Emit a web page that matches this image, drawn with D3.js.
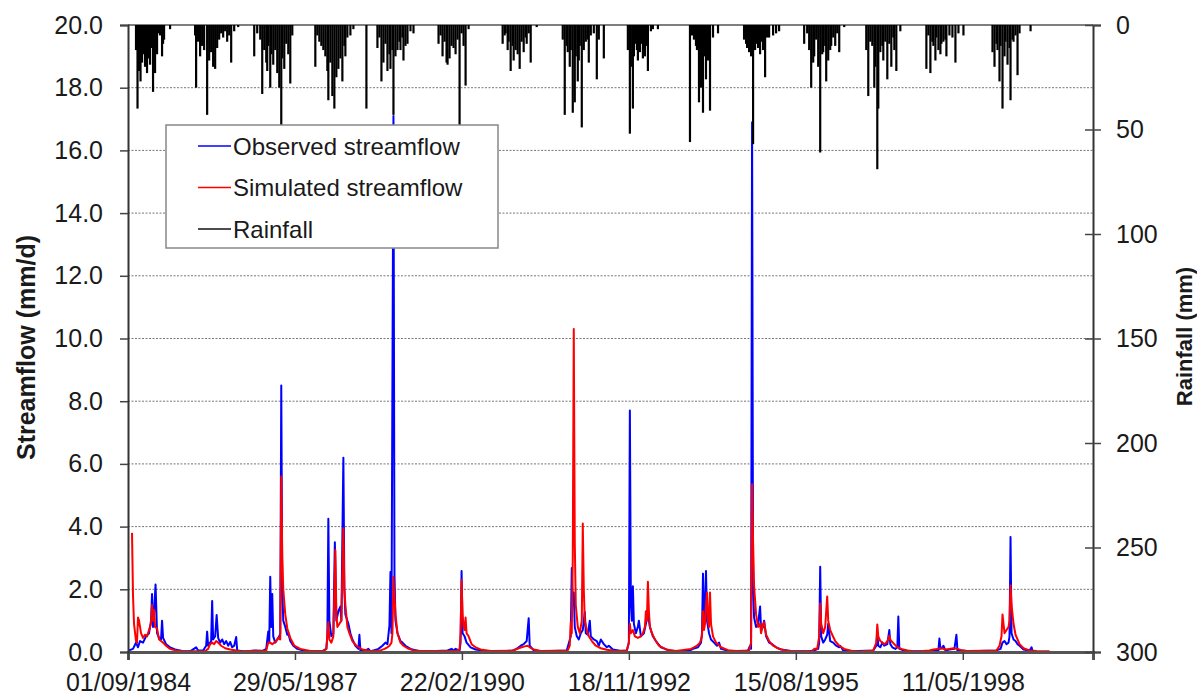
<!DOCTYPE html>
<html>
<head>
<meta charset="utf-8">
<script src="https://cdn.jsdelivr.net/npm/d3@7"></script>
<style>
  body { margin: 0; background: #fff; }
  text { font-family: "Liberation Sans", Arial, sans-serif; fill: #1a1a1a; }
</style>
</head>
<body>
<script>
// day offsets are counted from 01/09/1984
var startDate = new Date(1984, 8, 1);
var lastDay = 5780;
var xTickDays = [0, 1000, 2000, 3000, 4000, 5000];
var flowTicks = [0, 2, 4, 6, 8, 10, 12, 14, 16, 18, 20];
var rainTicks = [0, 50, 100, 150, 200, 250, 300];

// rainfall, [day, mm]
var rainfall = [
  [48,12],[57,40],[66,22],[75,27],[84,18],[90,10],[96,14],[102,20],[108,9],[114,23],[120,12],[126,16],[132,19],[138,8],[144,11],[150,32],[156,13],[162,23],[168,6],[174,14],[180,4],[192,5],[204,15],[210,9],[216,7],[252,2],
  [402,5],[408,30],[420,8],[432,15],[444,10],[456,12],[474,43],[486,17],[498,13],[510,20],[522,21],[534,11],[546,7],[558,4],[570,6],[582,3],[594,8],[606,5],[618,18],[636,3],[660,1],
  [756,15],[774,4],[792,7],[804,33],[816,12],[828,18],[834,22],[840,10],[852,30],[858,14],[870,19],[882,12],[894,23],[906,30],[918,50],[924,16],[936,21],[948,9],[960,14],[972,28],[984,5],
  [1122,20],[1134,5],[1146,8],[1158,10],[1170,12],[1182,15],[1194,22],[1200,36],[1212,18],[1224,34],[1236,40],[1248,25],[1260,21],[1272,16],[1284,27],[1296,10],[1302,15],[1314,6],[1332,5],[1350,2],[1428,40],
  [1494,11],[1506,6],[1518,27],[1530,18],[1542,9],[1554,22],[1566,14],[1572,21],[1584,12],[1590,43],[1602,15],[1614,12],[1626,8],[1632,12],[1644,6],[1650,17],[1662,10],[1674,9],[1692,3],[1710,4],
  [1860,9],[1872,5],[1884,15],[1896,8],[1908,18],[1914,19],[1926,16],[1938,10],[1950,11],[1962,14],[1974,7],[1986,50],[1998,4],[2010,10],[2022,29],[2040,2],
  [2244,9],[2256,5],[2262,4],[2274,12],[2280,8],[2292,22],[2304,10],[2310,17],[2322,12],[2334,14],[2346,21],[2358,8],[2370,13],[2382,6],[2388,9],[2400,4],[2412,18],[2448,1],
  [2604,7],[2616,43],[2628,10],[2634,13],[2646,20],[2652,12],[2664,42],[2676,37],[2682,15],[2694,27],[2700,17],[2706,10],[2718,49],[2730,12],[2742,8],[2754,7],[2760,18],[2772,5],[2790,4],[2808,26],[2820,7],[2850,16],
  [2994,12],[3006,52],[3012,20],[3024,40],[3030,15],[3036,9],[3048,12],[3054,17],[3066,13],[3072,9],[3084,16],[3096,15],[3102,10],[3114,22],[3132,3],[3144,2],[3174,2],
  [3366,56],[3378,5],[3390,7],[3402,10],[3408,12],[3420,37],[3426,18],[3432,30],[3438,14],[3444,42],[3456,15],[3462,26],[3474,17],[3486,41],[3504,6],[3534,4],
  [3690,7],[3702,9],[3708,11],[3720,13],[3732,15],[3738,8],[3744,57],[3756,12],[3762,9],[3774,11],[3786,14],[3792,8],[3804,12],[3816,25],[3828,6],[3840,6],[3864,5],[3882,4],[3900,3],
  [4050,9],[4068,4],[4080,12],[4092,30],[4104,18],[4110,15],[4122,7],[4134,20],[4146,61],[4158,14],[4164,13],[4176,10],[4182,27],[4194,17],[4206,12],[4212,10],[4224,6],[4236,10],[4248,4],[4260,13],[4290,1],
  [4422,12],[4434,34],[4446,8],[4458,10],[4470,30],[4476,20],[4488,69],[4494,40],[4506,13],[4518,10],[4524,17],[4536,8],[4548,26],[4560,9],[4572,20],[4584,6],[4590,12],[4602,22],[4626,3],
  [4782,21],[4794,5],[4806,23],[4818,8],[4824,10],[4836,17],[4842,6],[4854,12],[4866,14],[4872,9],[4884,8],[4896,7],[4902,15],[4920,5],[4938,6],[4956,18],[4974,4],[5004,5],
  [5178,13],[5190,20],[5202,9],[5208,12],[5220,27],[5226,10],[5238,40],[5250,15],[5256,8],[5268,19],[5280,11],[5286,36],[5298,7],[5304,8],[5316,5],[5328,24],[5340,4],[5406,3]
];

// observed streamflow, [day, mm/d]
var observed = [
  [6,0.05],[30,0.1],[48,0.3],[60,0.15],[72,0.35],[90,0.3],[108,0.5],[126,0.6],[138,1.0],[144,1.85],[150,0.8],[156,1.2],[165,2.15],[174,0.6],[186,0.45],[198,0.4],[204,1.0],[210,0.45],[228,0.25],[252,0.15],[282,0.08],[324,0.03],[372,0.02],
  [408,0.15],[420,0.05],[450,0.05],[468,0.2],[474,0.65],[480,0.2],[498,0.35],[504,1.63],[510,0.4],[522,0.5],[531,1.18],[540,0.45],[552,0.3],[564,0.4],[576,0.25],[588,0.35],[600,0.2],[612,0.32],[624,0.15],[636,0.2],[648,0.48],[654,0.05],[702,0.02],
  [762,0.05],[804,0.03],[828,0.1],[840,0.65],[846,0.3],[852,2.4],[858,0.8],[864,1.85],[870,0.5],[882,0.3],[894,0.4],[906,0.5],[912,0.6],[918,8.5],[924,2.0],[930,1.0],[942,0.8],[954,0.55],[960,0.6],[972,0.35],[990,0.2],[1014,0.1],[1062,0.03],[1122,0.02],
  [1164,0.03],[1188,0.1],[1194,0.5],[1200,4.25],[1206,1.0],[1218,0.5],[1230,0.6],[1239,3.5],[1248,1.0],[1260,1.3],[1272,1.45],[1278,1.0],[1290,6.2],[1296,2.0],[1302,1.2],[1320,0.9],[1332,0.6],[1344,0.4],[1362,0.2],[1380,0.1],[1386,0.55],[1392,0.05],[1422,0.05],[1440,0.1],[1452,0.02],
  [1500,0.1],[1524,0.2],[1542,0.3],[1554,0.25],[1566,0.85],[1572,2.55],[1578,0.6],[1590,17.1],[1596,2.5],[1602,1.0],[1614,0.6],[1632,0.35],[1644,0.3],[1662,0.2],[1692,0.1],[1740,0.03],[1812,0.02],
  [1914,0.05],[1938,0.1],[1950,0.05],[1962,0.1],[1986,0.05],[1992,0.3],[1998,2.58],[2004,0.6],[2016,0.5],[2028,0.3],[2052,0.15],[2082,0.08],[2142,0.03],[2232,0.02],
  [2304,0.05],[2328,0.1],[2352,0.2],[2370,0.25],[2388,0.35],[2400,1.08],[2406,0.2],[2430,0.05],[2502,0.02],
  [2628,0.05],[2652,0.5],[2658,2.68],[2664,1.5],[2670,1.9],[2676,0.8],[2688,0.5],[2700,0.4],[2712,0.6],[2724,0.7],[2736,1.28],[2742,0.6],[2754,0.55],[2766,1.0],[2772,0.5],[2790,0.4],[2808,0.35],[2820,0.2],[2832,0.4],[2850,0.25],[2868,0.15],[2880,0.2],[2904,0.08],[2952,0.03],
  [2988,0.05],[3000,0.3],[3006,7.7],[3012,1.5],[3018,1.0],[3024,2.1],[3030,0.9],[3042,0.6],[3054,0.8],[3060,1.0],[3072,0.5],[3090,0.6],[3102,0.9],[3114,1.2],[3126,0.8],[3144,0.5],[3162,0.35],[3192,0.15],[3240,0.05],[3300,0.02],
  [3366,0.05],[3384,0.1],[3414,0.15],[3432,0.3],[3438,0.6],[3444,2.5],[3450,1.0],[3456,1.3],[3462,2.58],[3468,1.0],[3480,0.6],[3492,0.4],[3510,0.3],[3528,0.2],[3540,0.3],[3552,0.1],[3600,0.03],[3672,0.02],
  [3714,0.05],[3726,0.2],[3732,0.1],[3738,16.9],[3744,2.0],[3750,1.1],[3762,0.8],[3774,0.9],[3786,1.45],[3792,0.7],[3804,0.8],[3810,1.0],[3822,0.5],[3840,0.3],[3858,0.25],[3882,0.15],[3912,0.08],[3972,0.03],[4062,0.02],
  [4110,0.05],[4134,0.1],[4140,0.3],[4146,2.72],[4152,0.5],[4164,0.3],[4176,0.4],[4188,0.55],[4194,0.9],[4206,0.35],[4224,0.3],[4242,0.2],[4260,0.15],[4266,0.2],[4284,0.05],[4332,0.02],
  [4464,0.05],[4482,0.2],[4488,0.6],[4494,0.2],[4506,0.15],[4518,0.3],[4530,0.2],[4548,0.25],[4560,0.7],[4566,0.25],[4578,0.15],[4596,0.1],[4608,0.15],[4614,1.13],[4620,0.1],[4650,0.05],[4704,0.02],
  [4800,0.03],[4830,0.05],[4854,0.05],[4860,0.43],[4866,0.1],[4878,0.15],[4884,0.2],[4896,0.05],[4920,0.08],[4950,0.1],[4962,0.55],[4968,0.05],[4992,0.05],[5052,0.02],
  [5202,0.05],[5226,0.1],[5238,0.3],[5250,0.35],[5262,0.25],[5274,0.3],[5280,0.5],[5286,3.67],[5292,0.6],[5304,0.4],[5316,0.35],[5328,0.25],[5340,0.2],[5364,0.08],[5400,0.05],[5412,0.15],[5418,0.03]
];

// simulated streamflow, [day, mm/d]
var simulated = [
  [24,3.8],[30,1.8],[36,0.9],[48,0.35],[54,0.3],[60,1.1],[66,1.0],[78,0.6],[90,0.45],[102,0.55],[114,0.5],[126,0.7],[138,0.9],[144,1.5],[150,1.0],[156,1.35],[162,0.8],[174,0.75],[186,0.4],[198,0.35],[210,0.3],[228,0.2],[252,0.1],[288,0.05],[342,0.02],
  [462,0.03],[480,0.1],[492,0.25],[504,0.3],[516,0.25],[528,0.35],[540,0.3],[558,0.2],[582,0.12],[612,0.08],[648,0.05],[684,0.02],
  [828,0.05],[840,0.3],[852,0.3],[864,0.25],[876,0.3],[888,0.35],[900,0.45],[912,0.4],[918,5.6],[924,3.0],[930,2.0],[942,1.2],[954,0.75],[972,0.45],[996,0.2],[1032,0.1],[1092,0.03],
  [1170,0.03],[1188,0.1],[1200,0.95],[1206,0.4],[1218,0.3],[1230,0.5],[1242,3.25],[1248,1.2],[1254,0.8],[1266,0.9],[1278,1.0],[1290,3.95],[1296,2.0],[1302,1.5],[1314,0.8],[1326,0.6],[1344,0.35],[1368,0.2],[1404,0.08],[1452,0.03],
  [1512,0.05],[1536,0.1],[1554,0.15],[1566,0.2],[1578,0.3],[1584,0.6],[1590,2.4],[1596,1.8],[1602,1.2],[1614,0.6],[1632,0.3],[1650,0.2],[1674,0.12],[1704,0.06],[1752,0.03],
  [1962,0.03],[1986,0.08],[1992,0.6],[1998,2.3],[2004,1.2],[2010,0.8],[2016,0.7],[2022,1.1],[2028,0.6],[2040,0.5],[2058,0.25],[2082,0.15],[2112,0.08],[2172,0.03],
  [2304,0.04],[2322,0.08],[2340,0.12],[2358,0.15],[2376,0.18],[2394,0.2],[2406,0.15],[2430,0.08],[2472,0.03],
  [2634,0.05],[2646,0.2],[2652,0.95],[2658,0.6],[2664,3.0],[2670,10.3],[2676,3.5],[2682,1.5],[2694,0.8],[2706,0.6],[2718,1.0],[2724,4.1],[2730,2.0],[2736,1.0],[2748,0.7],[2760,0.5],[2778,0.35],[2802,0.2],[2832,0.12],[2868,0.07],[2922,0.03],
  [2988,0.05],[3000,0.3],[3006,0.9],[3012,0.6],[3024,0.7],[3036,0.5],[3054,0.45],[3072,0.5],[3084,0.6],[3096,0.8],[3102,1.3],[3108,1.0],[3114,2.24],[3120,1.3],[3126,0.8],[3138,0.6],[3156,0.4],[3180,0.2],[3222,0.08],[3282,0.03],
  [3372,0.1],[3390,0.15],[3408,0.2],[3426,0.3],[3438,0.5],[3444,1.3],[3450,0.7],[3456,0.9],[3462,1.5],[3468,1.9],[3474,1.0],[3480,0.8],[3486,1.9],[3492,0.9],[3504,0.5],[3522,0.3],[3552,0.15],[3594,0.06],[3642,0.03],
  [3720,0.05],[3732,0.3],[3738,5.35],[3744,3.5],[3750,2.1],[3762,1.2],[3774,0.8],[3786,0.9],[3792,0.6],[3804,0.9],[3810,0.95],[3822,0.55],[3840,0.35],[3864,0.2],[3900,0.1],[3948,0.04],[4002,0.02],
  [4098,0.03],[4110,0.1],[4128,0.1],[4140,0.5],[4146,1.55],[4152,0.9],[4164,0.6],[4176,0.8],[4182,1.3],[4188,1.77],[4194,1.0],[4206,0.7],[4218,0.55],[4236,0.35],[4260,0.2],[4290,0.1],[4332,0.04],[4380,0.02],
  [4464,0.05],[4482,0.3],[4488,0.88],[4494,0.5],[4506,0.35],[4518,0.3],[4530,0.25],[4542,0.3],[4554,0.4],[4560,0.52],[4566,0.4],[4572,0.35],[4590,0.25],[4608,0.15],[4632,0.1],[4668,0.05],[4722,0.02],
  [4800,0.05],[4824,0.08],[4848,0.1],[4872,0.12],[4896,0.08],[4920,0.1],[4944,0.12],[4968,0.1],[4992,0.06],[5028,0.03],
  [5202,0.05],[5220,0.2],[5232,0.5],[5238,1.2],[5244,0.9],[5250,0.6],[5262,0.7],[5274,0.8],[5280,1.0],[5286,2.13],[5292,1.5],[5304,0.9],[5316,0.55],[5328,0.4],[5340,0.25],[5364,0.12],[5400,0.05],[5442,0.03],[5520,0.02]
];

var legendLabels = ["Observed streamflow", "Simulated streamflow", "Rainfall"];
var legendColors = ["#0000ff", "#ff0000", "#111111"];

var svgWidth = 1197;
var svgHeight = 696;
var margin = { top: 25, right: 104, bottom: 44, left: 128 };
var chartWidth = svgWidth - margin.left - margin.right;
var chartHeight = svgHeight - margin.top - margin.bottom;

function dayToDate(d) { return d3.timeDay.offset(startDate, d); }

var svg = d3.select("body").append("svg")
    .attr("width", svgWidth)
    .attr("height", svgHeight);

var chartGroup = svg.append("g")
    .attr("transform", `translate(${margin.left}, ${margin.top})`);

var xScale = d3.scaleTime()
    .domain([startDate, dayToDate(lastDay)])
    .range([0, chartWidth]);

var yFlow = d3.scaleLinear().domain([0, 20]).range([chartHeight, 0]);
var yRain = d3.scaleLinear().domain([0, 300]).range([0, chartHeight]);

// dotted gridlines
chartGroup.append("g")
    .selectAll("line")
    .data(flowTicks.filter(t => t > 0 && t < 20))
    .enter().append("line")
    .attr("x1", 0).attr("x2", chartWidth)
    .attr("y1", d => yFlow(d)).attr("y2", d => yFlow(d))
    .attr("stroke", "#777")
    .attr("stroke-width", 1)
    .attr("stroke-dasharray", "2,1.5");

// top border
chartGroup.append("line")
    .attr("x1", 0).attr("x2", chartWidth)
    .attr("y1", 0).attr("y2", 0)
    .attr("stroke", "#555").attr("stroke-width", 1.5);

// streamflow lines
var flowLine = d3.line()
    .x(d => xScale(dayToDate(d[0])))
    .y(d => yFlow(d[1]));

chartGroup.append("path")
    .datum(observed)
    .attr("fill", "none")
    .attr("stroke", legendColors[0])
    .attr("stroke-width", 2)
    .attr("stroke-linejoin", "round")
    .attr("d", flowLine);

chartGroup.append("path")
    .datum(simulated)
    .attr("fill", "none")
    .attr("stroke", legendColors[1])
    .attr("stroke-width", 2)
    .attr("stroke-linejoin", "round")
    .attr("d", flowLine);

// rainfall bars hanging from the top
chartGroup.append("g")
    .selectAll("line")
    .data(rainfall)
    .enter().append("line")
    .attr("x1", d => xScale(dayToDate(d[0])))
    .attr("x2", d => xScale(dayToDate(d[0])))
    .attr("y1", yRain(0))
    .attr("y2", d => yRain(d[1]))
    .attr("stroke", "#000")
    .attr("stroke-width", 2.2);

// axes
var bottomAxis = d3.axisBottom(xScale)
    .tickValues(xTickDays.map(dayToDate))
    .tickFormat(d3.timeFormat("%d/%m/%Y"))
    .tickSizeOuter(0)
    .tickSize(8)
    .tickPadding(13);

var leftAxis = d3.axisLeft(yFlow)
    .tickValues(flowTicks)
    .tickFormat(d3.format(".1f"))
    .tickSizeOuter(0)
    .tickSize(8)
    .tickPadding(17);

var rightAxis = d3.axisRight(yRain)
    .tickValues(rainTicks)
    .tickSizeOuter(0)
    .tickSize(8)
    .tickPadding(15);

var xAxisG = chartGroup.append("g")
    .attr("transform", `translate(0, ${chartHeight})`)
    .call(bottomAxis);

var yAxisG = chartGroup.append("g").call(leftAxis);

var rAxisG = chartGroup.append("g")
    .attr("transform", `translate(${chartWidth}, 0)`)
    .call(rightAxis);

// right axis ticks cross the axis line
rAxisG.selectAll(".tick").append("line")
    .attr("x1", -8).attr("x2", 0)
    .attr("stroke", "#444").attr("stroke-width", 1.5);

[xAxisG, yAxisG, rAxisG].forEach(function(g) {
    g.selectAll("text")
        .style("font-size", "25px")
        .style("font-family", "'Liberation Sans', Arial, sans-serif")
        .attr("fill", "#1a1a1a");
    g.selectAll(".tick line").attr("stroke", "#444").attr("stroke-width", 1.5);
});
yAxisG.select(".domain").attr("stroke", "#333").attr("stroke-width", 2);
rAxisG.select(".domain").attr("stroke", "#333").attr("stroke-width", 2);
xAxisG.select(".domain").attr("stroke", "#555").attr("stroke-width", 3);

// axis titles
svg.append("text")
    .attr("transform", `translate(26, ${margin.top + chartHeight / 2 + 9}) rotate(-90)`)
    .attr("text-anchor", "middle")
    .attr("dominant-baseline", "central")
    .style("font-size", "25px")
    .style("font-weight", "bold")
    .text("Streamflow (mm/d)");

svg.append("text")
    .attr("transform", `translate(1184, ${margin.top + chartHeight / 2 - 2}) rotate(-90)`)
    .attr("text-anchor", "middle")
    .attr("dominant-baseline", "central")
    .style("font-size", "22px")
    .style("font-weight", "bold")
    .text("Rainfall (mm)");

// legend
var legend = svg.append("g").attr("transform", "translate(166, 125)");
legend.append("rect")
    .attr("width", 332).attr("height", 123)
    .attr("fill", "#fff")
    .attr("stroke", "#888").attr("stroke-width", 1.5);

var legendRows = legend.selectAll("g.row")
    .data(legendLabels)
    .enter().append("g")
    .attr("class", "row")
    .attr("transform", (d, i) => `translate(0, ${21 + i * 41.5})`);

legendRows.append("line")
    .attr("x1", 32).attr("x2", 65)
    .attr("stroke", (d, i) => legendColors[i])
    .attr("stroke-width", 1.5);

legendRows.append("text")
    .attr("x", 67)
    .attr("dominant-baseline", "central")
    .style("font-size", "24px")
    .text(d => d);
</script>
</body>
</html>
